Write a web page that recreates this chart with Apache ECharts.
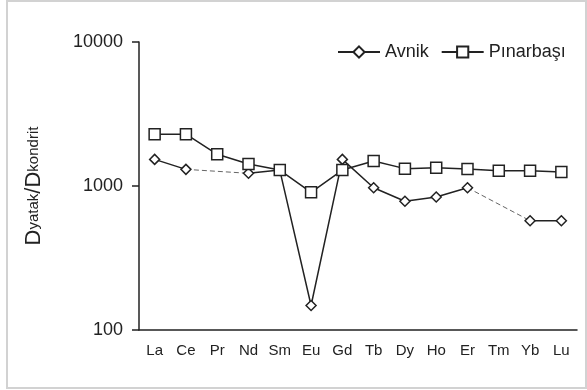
<!DOCTYPE html>
<html>
<head>
<meta charset="utf-8">
<script src="https://cdn.jsdelivr.net/npm/echarts@6/dist/echarts.min.js"></script>
<style>
  html, body { margin: 0; padding: 0; background: #fff; }
  #chart { width: 587px; height: 390px; }
</style>
</head>
<body>
<div id="chart"></div>
<script>
const elements = ['La', 'Ce', 'Pr', 'Nd', 'Sm', 'Eu', 'Gd', 'Tb', 'Dy', 'Ho', 'Er', 'Tm', 'Yb', 'Lu']
// null = not measured (bridged with a dashed line)
const avnik = [1530, 1305, null, 1225, 1290, 148, 1530, 973, 783, 839, 973, null, 574, 574]
const pinarbasi = [2290, 2290, 1660, 1420, 1290, 904, 1290, 1490, 1320, 1340, 1310, 1278, 1278, 1250]
const yTicks = [100, 1000, 10000]

const FONT = '"Liberation Sans", Arial, sans-serif'
const INK = '#222'

// dashed bridges over missing points
function gapSeries(values) {
  const out = []
  for (let i = 1; i < values.length - 1; i++) {
    if (values[i] == null && values[i - 1] != null) {
      let j = i
      while (j < values.length && values[j] == null) j++
      if (j < values.length) {
        const d = values.map(() => null)
        d[i - 1] = values[i - 1]
        d[j] = values[j]
        out.push(d)
      }
    }
  }
  return out
}

const chart = echarts.init(document.getElementById('chart'), null, { renderer: 'canvas' })

const dashed = gapSeries(avnik).map(d => ({
  type: 'line',
  data: d,
  connectNulls: true,
  showSymbol: false,
  silent: true,
  z: 1,
  lineStyle: { color: '#666', width: 1, type: [5, 3] },
}))

chart.setOption({
  backgroundColor: '#fff',
  animation: false,
  textStyle: { fontFamily: FONT },
  graphic: [{
    type: 'rect',
    shape: { x: 7, y: 1, width: 579, height: 387 },
    style: { fill: 'none', stroke: '#d2d2d2', lineWidth: 2 },
    silent: true,
  }],
  legend: {
    left: 337,
    top: 43,
    padding: 0,
    itemWidth: 42,
    itemHeight: 14,
    itemGap: 12,
    textStyle: { fontSize: 18, color: INK, fontFamily: FONT },
    data: ['Avnik', 'Pınarbaşı'],
  },
  grid: { left: 139, right: 10, top: 42, bottom: 60, containLabel: false, outerBoundsMode: 'none' },
  xAxis: {
    type: 'category',
    data: elements,
    boundaryGap: true,
    axisLine: { lineStyle: { color: INK, width: 1.5 } },
    axisTick: { length: 5, lineStyle: { color: INK, width: 1.5 } },
    axisLabel: { fontSize: 15, color: INK, margin: 13, fontFamily: FONT, interval: 0 },
  },
  yAxis: {
    type: 'log',
    logBase: 10,
    min: yTicks[0],
    max: yTicks[yTicks.length - 1],
    name: '{big|D}{small|yatak}{big|/D}{small|kondrit}',
    nameLocation: 'middle',
    nameRotate: 90,
    nameGap: 94,
    nameTextStyle: {
      color: INK,
      rich: {
        big: { fontSize: 22, fontFamily: FONT, color: INK, verticalAlign: 'top', lineHeight: 22 },
        small: { fontSize: 15, fontFamily: FONT, color: INK, verticalAlign: 'top', lineHeight: 22, padding: [3, 0, 0, 0] },
      },
    },
    axisLine: { show: true, lineStyle: { color: INK, width: 1.5 } },
    axisTick: { show: true, length: 7, lineStyle: { color: INK, width: 1.5 } },
    axisLabel: { fontSize: 18, color: INK, margin: 16, fontFamily: FONT, formatter: v => String(v) },
    splitLine: { show: false },
  },
  series: [
    ...dashed,
    {
      name: 'Avnik',
      type: 'line',
      data: avnik,
      connectNulls: false,
      symbol: 'diamond',
      symbolSize: 10,
      z: 3,
      lineStyle: { color: INK, width: 1.5 },
      itemStyle: { color: '#fff', borderColor: INK, borderWidth: 1.5 },
    },
    {
      name: 'Pınarbaşı',
      type: 'line',
      data: pinarbasi,
      symbol: 'rect',
      symbolSize: 11,
      z: 4,
      lineStyle: { color: INK, width: 1.5 },
      itemStyle: { color: '#fff', borderColor: INK, borderWidth: 1.5 },
    },
  ],
})
</script>
</body>
</html>
